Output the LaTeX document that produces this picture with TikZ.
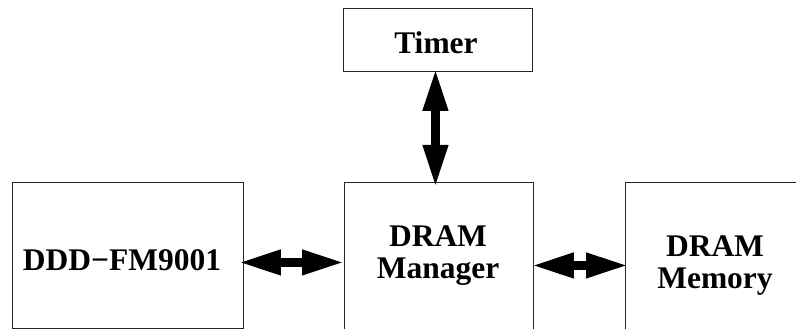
\documentclass[tikz,border=0pt]{standalone}
\usepackage{fontspec}
\setmainfont{Liberation Serif}
\usetikzlibrary{arrows.meta}
\begin{document}
\begin{tikzpicture}[x=1pt,y=1pt,
  blk/.style={draw=black!85, line width=0.9pt, inner sep=0pt},
  lbl/.style={font=\fontsize{31.5}{32}\selectfont\bfseries, align=center, inner sep=0pt},
  bus/.style={line width=9.5pt,
    {Triangle[length=43pt,width=23pt]}-{Triangle[length=43pt,width=23pt]}}]
\useasboundingbox (0,0) rectangle (796,329);
\clip (0,0) rectangle (796,329);

% blocks
\node[blk, anchor=north west, minimum width=189pt, minimum height=63pt] (timer) at (343,321) {};
\node[blk, anchor=north west, minimum width=231pt, minimum height=146pt] (ddd) at (12,147) {};
\node[blk, anchor=north west, minimum width=189pt, minimum height=160pt] (mgr) at (344,147) {};
\node[blk, anchor=north west, minimum width=200pt, minimum height=160pt] (mem) at (625,147) {};

% labels
\node[lbl] (ttimer) at (436,286) {Timer};
\node[lbl] (tddd) at (122,69) {DDD−FM9001};
\node[lbl] (tmgr) at (438,73) {DRAM\\Manager};
\node[lbl] (tmem) at (715,63) {DRAM\\Memory};

% buses
\draw[bus] ([shift={(-6pt,0pt)}]ddd.east |- mgr.west) -- ([shift={(1pt,0pt)}]mgr.west);
\draw[bus] ([shift={(-3pt,-3pt)}]mgr.east) -- ([shift={(4pt,-3pt)}]mem.west);
\draw[bus] ([shift={(-2.5pt,4pt)}]timer.south) -- ([shift={(-3.5pt,-6pt)}]mgr.north);
\end{tikzpicture}
\end{document}
